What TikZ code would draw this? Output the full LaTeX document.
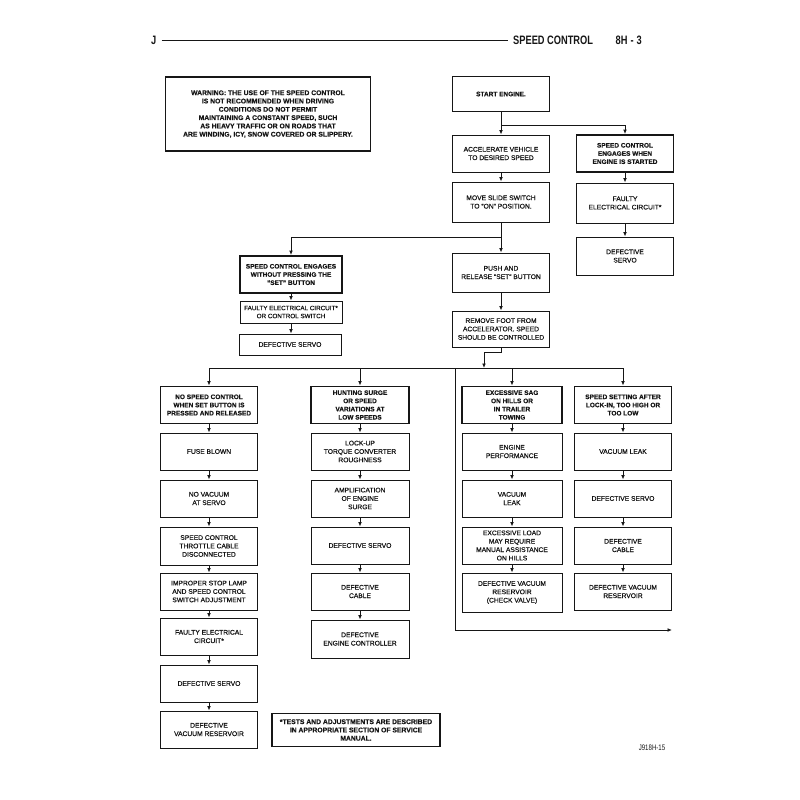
\documentclass[tikz,border=0pt]{standalone}
\usepackage{fontspec}
\setmainfont{Liberation Sans}
\setsansfont{Liberation Sans}
\newfontfamily\condfont[FakeStretch=0.76]{Liberation Sans Bold}
\newfontfamily\figfont[FakeStretch=0.76]{Liberation Sans}
\newfontfamily\boxfont[FakeBold=0.7]{Liberation Sans}
\newfontfamily\headfont[FakeBold=0.4]{Liberation Sans Bold}
\usetikzlibrary{arrows.meta,calc}
\definecolor{scink}{RGB}{22,22,22}

\begin{document}
\begin{tikzpicture}[
    x=1pt, y=-1pt,
    font=\sffamily,
    >={Latex[length=4.5pt,width=3.8pt]},
    % Box styles: plain check boxes and heavier condition boxes.
    box/.style={
        draw=scink,
        line width=0.9pt,
        align=center,
        inner sep=1pt,
        text=scink,
        font=\boxfont\fontsize{6.7}{8.4}\selectfont,
        minimum width=97pt,
        minimum height=37pt
    },
    headbox/.style={
        box,
        line width=1.8pt,
        font=\headfont\fontsize{6.5}{8.2}\selectfont
    },
    slimbox/.style={
        box,
        minimum width=102pt,
        minimum height=21pt
    },
    notebox/.style={
        headbox,
        font=\headfont\fontsize{6.8}{8.3}\selectfont
    },
    flow/.style={->, line width=0.9pt, draw=scink},
    rail/.style={line width=0.9pt, draw=scink}
]
    \useasboundingbox (0,0) rectangle (800,800);

    % Page header
    \node[font=\condfont\fontsize{12.2}{12.2}\selectfont, text=scink,
        anchor=base west, inner sep=0pt] (pagej) at (151,44.5) {J};
    \node[font=\condfont\fontsize{12.2}{12.2}\selectfont, text=scink,
        anchor=base west, inner sep=0pt] (pagetitle) at (513,44.5) {SPEED CONTROL};
    \node[font=\condfont\fontsize{12.2}{12.2}\selectfont, text=scink,
        anchor=base east, inner sep=0pt] (pagenum) at (642,44.5) {8H\hspace{3pt}-\hspace{3pt}3};
    \draw[line width=1.4pt, draw=scink] ($(pagej.base east)+(5,-4)$) -- ($(pagetitle.base west)+(-5,-4)$);

    \node[notebox, minimum width=205pt, minimum height=74pt] (warning) at (268,114)
        {WARNING: THE USE OF THE SPEED CONTROL\\IS NOT RECOMMENDED WHEN DRIVING\\
         CONDITIONS DO NOT PERMIT\\MAINTAINING A CONSTANT SPEED, SUCH\\
         AS HEAVY TRAFFIC OR ON ROADS THAT\\ARE WINDING, ICY, SNOW COVERED OR SLIPPERY.};

    % Main line of the test
    \node[headbox, minimum height=35pt] (start) at (501,94) {START ENGINE.};
    \node[box] (accel) at (501,153.5) {ACCELERATE VEHICLE\\TO DESIRED SPEED};
    \node[box, minimum height=40pt] (slide) at (501,202) {MOVE SLIDE SWITCH\\TO “ON” POSITION.};
    \node[box, minimum height=39pt] (push) at (501,272.5) {PUSH AND\\RELEASE “SET” BUTTON};
    \node[box, minimum height=36pt] (foot) at (501,329)
        {REMOVE FOOT FROM\\ACCELERATOR. SPEED\\SHOULD BE CONTROLLED};

    \node[headbox] (enginestart) at (625,153.5) {SPEED CONTROL\\ENGAGES WHEN\\ENGINE IS STARTED};
    \node[box, minimum height=40pt] (esfault) at (625,203) {FAULTY\\ELECTRICAL CIRCUIT*};
    \node[box, minimum height=38pt] (esservo) at (625,256) {DEFECTIVE\\SERVO};

    \node[headbox, minimum width=102pt] (noset) at (291,274.5)
        {SPEED CONTROL ENGAGES\\WITHOUT PRESSING THE\\“SET” BUTTON};
    \node[slimbox, minimum height=22pt, font=\boxfont\fontsize{6.3}{8}\selectfont] (nsfault) at (291,312)
        {FAULTY ELECTRICAL CIRCUIT*\\OR CONTROL SWITCH};
    \node[slimbox] (nsservo) at (290,344.5) {DEFECTIVE SERVO};

    \draw[rail] (start.south) -- (501,125) coordinate (startsplit);
    \draw[flow] (startsplit) -- (accel.north);
    \draw[flow] (startsplit) -| (enginestart.north);
    \draw[flow] (accel) -- (slide);
    \draw[flow] (slide.south) -- (push.north);
    \draw[flow] (slide.south |- 0,237) -| (noset.north);
    \draw[flow] (push) -- (foot);
    \draw[flow] (enginestart) -- (esfault);
    \draw[flow] (esfault) -- (esservo);
    \draw[flow] (noset) -- (nsfault);
    \draw[flow] (nsfault.south) -- (nsservo.north -| nsfault.south);

    % Four symptom columns
    \node[headbox] (noctrl) at (209,405) {NO SPEED CONTROL\\WHEN SET BUTTON IS\\PRESSED AND RELEASED};
    \node[box] (fuse) at (209,451.5) {FUSE BLOWN};
    \node[box] (novac) at (209,498.5) {NO VACUUM\\AT SERVO};
    \node[box, minimum height=38pt] (cable) at (209,546) {SPEED CONTROL\\THROTTLE CABLE\\DISCONNECTED};
    \node[box] (lamp) at (209,591.5) {IMPROPER STOP LAMP\\AND SPEED CONTROL\\SWITCH ADJUSTMENT};
    \node[box] (ncfault) at (209,636.5) {FAULTY ELECTRICAL\\CIRCUIT*};
    \node[box] (ncservo) at (209,683.5) {DEFECTIVE SERVO};
    \node[box] (ncres) at (209,729.5) {DEFECTIVE\\VACUUM RESERVOIR};

    \node[headbox, minimum width=98pt] (hunt) at (360,405) {HUNTING SURGE\\OR SPEED\\VARIATIONS AT\\LOW SPEEDS};
    \node[box, minimum width=98pt] (lockup) at (360,451.5) {LOCK-UP\\TORQUE CONVERTER\\ROUGHNESS};
    \node[box, minimum width=98pt] (ampl) at (360,498.5) {AMPLIFICATION\\OF ENGINE\\SURGE};
    \node[box, minimum width=98pt] (huservo) at (360,545.5) {DEFECTIVE SERVO};
    \node[box, minimum width=98pt] (hucable) at (360,591.5) {DEFECTIVE\\CABLE};
    \node[box, minimum width=98pt, minimum height=38pt] (controller) at (360,639)
        {DEFECTIVE\\ENGINE CONTROLLER};

    \node[headbox, minimum width=100pt] (sag) at (512,405) {EXCESSIVE SAG\\ON HILLS OR\\IN TRAILER\\TOWING};
    \node[box, minimum width=100pt] (perf) at (512,451.5) {ENGINE\\PERFORMANCE};
    \node[box, minimum width=100pt] (sagleak) at (512,498.5) {VACUUM\\LEAK};
    \node[box, minimum width=100pt] (load) at (512,545.5)
        {EXCESSIVE LOAD\\MAY REQUIRE\\MANUAL ASSISTANCE\\ON HILLS};
    \node[box, minimum width=100pt, minimum height=39pt] (valve) at (512,592.5)
        {DEFECTIVE VACUUM\\RESERVOIR\\(CHECK VALVE)};

    \node[headbox] (setting) at (623,405) {SPEED SETTING AFTER\\LOCK-IN, TOO HIGH OR\\TOO LOW};
    \node[box] (setleak) at (623,451.5) {VACUUM LEAK};
    \node[box] (setservo) at (623,498.5) {DEFECTIVE SERVO};
    \node[box] (setcable) at (623,545.5) {DEFECTIVE\\CABLE};
    \node[box] (setres) at (623,591.5) {DEFECTIVE VACUUM\\RESERVOIR};

    % Distribution rail below the last step
    \coordinate (railleft) at (209,368);
    \coordinate (railright) at (623,368);
    \coordinate (railtap) at (455,368);
    \coordinate (railbottom) at (455,630);
    \coordinate (railend) at (672,630);
    \draw[rail] (foot.south) -- ++(0,5) -| (484,360) coordinate (footjog);
    \draw[flow] (footjog) -- (484,368);
    \draw[rail] (railleft) -- (railright);
    \foreach \col in {noctrl,hunt,sag,setting} {
        \draw[flow] (railleft -| \col.north) -- (\col.north);
    }
    \draw[flow] (railtap) -- (railbottom) -- (railend);

    \foreach \up/\down in {noctrl/fuse,fuse/novac,novac/cable,cable/lamp,lamp/ncfault,
        ncfault/ncservo,ncservo/ncres,hunt/lockup,lockup/ampl,ampl/huservo,
        huservo/hucable,hucable/controller,sag/perf,perf/sagleak,sagleak/load,
        load/valve,setting/setleak,setleak/setservo,setservo/setcable,setcable/setres} {
        \draw[flow] (\up) -- (\down);
    }

    \node[notebox, minimum width=168pt, minimum height=33pt] (footnote) at (356,730)
        {*TESTS AND ADJUSTMENTS ARE DESCRIBED\\IN APPROPRIATE SECTION OF SERVICE\\MANUAL.};
    \node[font=\figfont\fontsize{8}{8}\selectfont, text=scink] (figref) at (652,748) {J918H-15};
\end{tikzpicture}
\end{document}
